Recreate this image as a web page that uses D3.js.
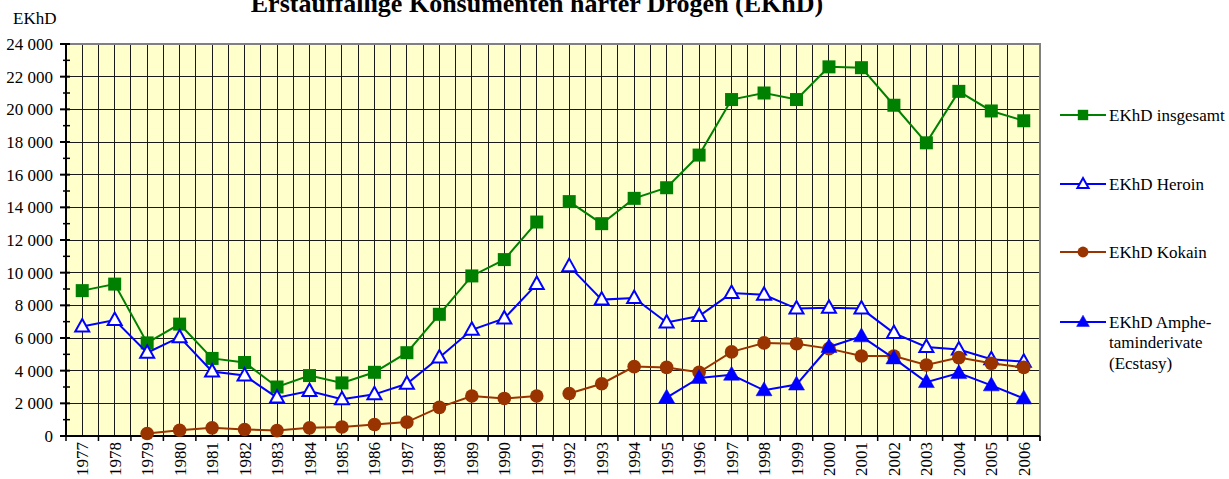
<!DOCTYPE html>
<html>
<head>
<meta charset="utf-8">
<script src="https://cdn.jsdelivr.net/npm/d3@7"></script>
<style>
  body { margin: 0; background: #fff; }
  svg text { font-family: 'Liberation Serif', 'DejaVu Serif', serif; fill: #000; }
</style>
</head>
<body>
<script>
// data
var years = ["1977","1978","1979","1980","1981","1982","1983","1984","1985","1986",
             "1987","1988","1989","1990","1991","1992","1993","1994","1995","1996",
             "1997","1998","1999","2000","2001","2002","2003","2004","2005","2006"];

var insgesamt = [8900,9300,5700,6850,4750,4500,3000,3700,3250,3900,
                 5100,7450,9800,10800,13100,14350,13000,14550,15200,17200,
                 20600,21000,20600,22600,22550,20250,17950,21100,19900,19300];

var heroin = [6700,7100,5100,6050,3950,3700,2350,2750,2250,2550,
              3200,4800,6500,7200,9300,10400,8350,8450,6950,7350,
              8750,8650,7800,7850,7800,6300,5450,5300,4700,4550];

var kokain = [null,null,150,350,500,400,330,500,550,700,
              850,1750,2450,2300,2450,2600,3200,4250,4200,3900,
              5150,5700,5650,5350,4900,4900,4350,4800,4450,4200];

var amphetamin = [null,null,null,null,null,null,null,null,null,null,
                  null,null,null,null,null,null,null,null,2350,3550,
                  3750,2800,3150,5450,6100,4750,3300,3850,3100,2300];

var breakAfter = "1991"; // lines are not joined across 1991/1992

var yTicks = d3.range(0, 24001, 2000);
var yMinor = d3.range(1000, 24000, 2000);

var series = [
  {name: ["EKhD insgesamt"], values: insgesamt, color: "#008000", shape: "square", fill: "#008000"},
  {name: ["EKhD Heroin"], values: heroin, color: "#0000ff", shape: "triangle", fill: "#fff"},
  {name: ["EKhD Kokain"], values: kokain, color: "#993300", shape: "circle", fill: "#993300"},
  {name: ["EKhD Amphe-", "taminderivate", "(Ecstasy)"], values: amphetamin, color: "#0000ff", shape: "triangle", fill: "#0000ff"}
];

var FONT = "'Liberation Serif', 'DejaVu Serif', serif";
var W = 1229, H = 479;
var plot = {left: 66, right: 1040, top: 44, bottom: 436};

var svg = d3.select("body").append("svg")
    .attr("width", W)
    .attr("height", H)
    .attr("font-family", FONT);

var x = d3.scaleBand().domain(years).range([plot.left, plot.right]).padding(0);
var bw = x.bandwidth();
var cx = function(d) { return x(d) + bw / 2; };
var y = d3.scaleLinear().domain([0, 24000]).range([plot.bottom, plot.top]);

// title (its top is cut off in the original too)
svg.append("text")
    .attr("x", 537).attr("y", 12)
    .attr("text-anchor", "middle")
    .attr("font-family", FONT)
    .style("font-size", "26px").style("font-weight", "bold")
    .text("Erstauffällige Konsumenten harter Drogen (EKhD)");

// plot background
svg.append("rect")
    .attr("x", plot.left).attr("y", plot.top)
    .attr("width", plot.right - plot.left).attr("height", plot.bottom - plot.top)
    .attr("fill", "#ffffcc");

// vertical grid: band edges and band centres
var vlines = years.map(function(d) { return x(d); })
    .concat(years.map(cx));
svg.append("g").selectAll("line")
    .data(vlines)
  .enter().append("line")
    .attr("x1", function(d) { return d; }).attr("x2", function(d) { return d; })
    .attr("y1", plot.top).attr("y2", plot.bottom)
    .attr("stroke", "#1a1a1a").attr("stroke-width", 1)
    .attr("shape-rendering", "crispEdges");

// horizontal grid
svg.append("g").selectAll("line")
    .data(yTicks.slice(1))
  .enter().append("line")
    .attr("x1", plot.left).attr("x2", plot.right)
    .attr("y1", function(d) { return y(d); }).attr("y2", function(d) { return y(d); })
    .attr("stroke", "#1a1a1a").attr("stroke-width", 1)
    .attr("shape-rendering", "crispEdges");

// top / right border
svg.append("path")
    .attr("d", "M" + plot.left + "," + plot.top + "H" + plot.right + "V" + (plot.bottom + 5))
    .attr("fill", "none").attr("stroke", "#808080").attr("stroke-width", 2);

// y axis
var yAxis = svg.append("g");
yAxis.append("line")
    .attr("x1", plot.left).attr("x2", plot.left)
    .attr("y1", plot.top).attr("y2", plot.bottom)
    .attr("stroke", "#000").attr("stroke-width", 2);
yAxis.selectAll(".maj").data(yTicks).enter().append("line")
    .attr("x1", plot.left - 6).attr("x2", plot.left + 4)
    .attr("y1", function(d) { return y(d); }).attr("y2", function(d) { return y(d); })
    .attr("stroke", "#000").attr("stroke-width", 2);
yAxis.selectAll(".min").data(yMinor).enter().append("line")
    .attr("x1", plot.left - 3).attr("x2", plot.left + 4)
    .attr("y1", function(d) { return y(d); }).attr("y2", function(d) { return y(d); })
    .attr("stroke", "#000").attr("stroke-width", 1.5);
yAxis.selectAll("text").data(yTicks).enter().append("text")
    .attr("x", plot.left - 13)
    .attr("y", function(d) { return y(d); })
    .attr("dy", "0.35em")
    .attr("text-anchor", "end")
    .attr("font-family", FONT)
    .style("font-size", "17px")
    .text(function(d) { return d3.format(",")(d).replace(",", " "); });

svg.append("text")
    .attr("x", 13).attr("y", 24)
    .attr("font-family", FONT)
    .style("font-size", "17px")
    .text("EKhD");

// x axis
var xAxis = svg.append("g");
xAxis.append("line")
    .attr("x1", plot.left).attr("x2", plot.right)
    .attr("y1", plot.bottom).attr("y2", plot.bottom)
    .attr("stroke", "#000").attr("stroke-width", 2);
xAxis.selectAll(".tick").data(years.map(function(d) { return x(d); }).concat([plot.right]))
  .enter().append("line")
    .attr("x1", function(d) { return d; }).attr("x2", function(d) { return d; })
    .attr("y1", plot.bottom).attr("y2", plot.bottom + 5)
    .attr("stroke", "#000").attr("stroke-width", 1.5);
xAxis.selectAll("text").data(years).enter().append("text")
    .attr("transform", function(d) { return "translate(" + (cx(d) + 6) + "," + (plot.bottom + 6) + ") rotate(-90)"; })
    .attr("text-anchor", "end")
    .attr("font-family", FONT)
    .style("font-size", "17px")
    .text(function(d) { return d; });

// marker drawing, k scales it down for the legend
function marker(g, shape, color, fill, k) {
  k = k || 1;
  if (shape == "square") {
    var h = 6.5 * k;
    g.append("rect").attr("x", -h).attr("y", -h).attr("width", 2 * h).attr("height", 2 * h)
      .attr("fill", fill);
  } else if (shape == "circle") {
    g.append("circle").attr("r", 6.8 * k).attr("fill", fill);
  } else {
    var open = fill == "#fff";
    var t = open ? [7.5, 7, 5] : [8.5, 8, 5.5];
    g.append("path")
      .attr("d", "M0," + (-t[0] * k) + "L" + (t[1] * k) + "," + (t[2] * k) + "L" + (-t[1] * k) + "," + (t[2] * k) + "Z")
      .attr("fill", fill)
      .attr("stroke", color).attr("stroke-width", open ? 2 : 0.5)
      .attr("stroke-linejoin", "miter");
  }
}

var line = d3.line()
    .defined(function(d) { return d.v != null; })
    .x(function(d) { return cx(d.year); })
    .y(function(d) { return y(d.v); });

series.forEach(function(s) {
  var pts = years.map(function(yr, i) { return {year: yr, v: s.values[i]}; });
  var cut = years.indexOf(breakAfter) + 1;
  [pts.slice(0, cut), pts.slice(cut)].forEach(function(seg) {
    svg.append("path")
      .attr("d", line(seg))
      .attr("fill", "none")
      .attr("stroke", s.color)
      .attr("stroke-width", 2);
  });
  svg.append("g").selectAll("g")
      .data(pts.filter(function(d) { return d.v != null; }))
    .enter().append("g")
      .attr("transform", function(d) { return "translate(" + cx(d.year) + "," + y(d.v) + ")"; })
      .each(function() { marker(d3.select(this), s.shape, s.color, s.fill); });
});

// legend
var legendY = [115, 184, 252, 322];
var legend = svg.append("g");
series.forEach(function(s, i) {
  var g = legend.append("g").attr("transform", "translate(0," + legendY[i] + ")");
  g.append("line").attr("x1", 1060).attr("x2", 1106).attr("y1", 0).attr("y2", 0)
    .attr("stroke", s.color).attr("stroke-width", 2);
  var m = g.append("g").attr("transform", "translate(1083,0)");
  marker(m, s.shape, s.color, s.fill, 0.8);
  s.name.forEach(function(t, j) {
    g.append("text")
      .attr("x", 1109).attr("y", j * 20.5)
      .attr("dy", "0.35em")
      .attr("font-family", FONT)
      .style("font-size", "17px")
      .text(t);
  });
});
</script>
</body>
</html>
